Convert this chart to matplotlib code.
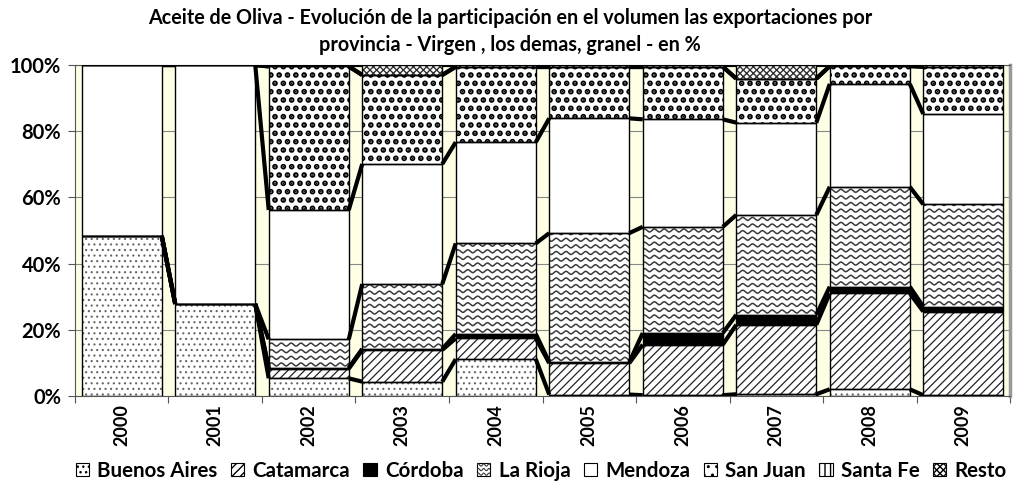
import numpy as np
import matplotlib.pyplot as plt
from matplotlib.patches import Patch, Rectangle
from matplotlib.lines import Line2D
from matplotlib.legend_handler import HandlerPatch

plt.rcParams['font.family'] = ['Lato', 'DejaVu Sans']
plt.rcParams['font.weight'] = 'bold'
plt.rcParams['hatch.linewidth'] = 1.0

# datos (% del volumen exportado, lectura del grafico)
years = ['2000', '2001', '2002', '2003', '2004', '2005', '2006', '2007', '2008', '2009']
buenos_aires = [48.4, 27.8, 5.3, 4.3, 11.1, 0.4, 0.2, 0.5, 2.0, 0.2]
catamarca = [0, 0, 2.9, 9.6, 6.3, 9.5, 15.3, 21.0, 29.0, 25.3]
cordoba = [0, 0, 0.3, 0.3, 1.3, 0.3, 3.5, 3.0, 2.0, 1.5]
la_rioja = [0, 0, 8.6, 19.6, 27.4, 39.0, 32.1, 30.2, 30.2, 30.9]
mendoza = [51.6, 72.2, 39.1, 36.3, 30.6, 34.7, 32.5, 27.9, 31.1, 27.3]
san_juan = [0, 0, 43.4, 26.9, 22.8, 15.6, 15.9, 13.3, 5.4, 14.3]
santa_fe = [0, 0, 0, 0, 0, 0, 0, 0, 0, 0]
resto = [0, 0, 0.4, 3.0, 0.5, 0.5, 0.5, 4.1, 0.3, 0.5]

names = ['Buenos Aires', 'Catamarca', 'Córdoba', 'La Rioja', 'Mendoza',
         'San Juan', 'Santa Fe', 'Resto']
series = [buenos_aires, catamarca, cordoba, la_rioja, mendoza, san_juan, santa_fe, resto]

# face colour, hatch, hatch colour, hatch linewidth
styles = {
    'Buenos Aires': ('white', '...', '#666666', 0.8),
    'Catamarca': ('white', '////', '#222222', 0.9),
    'Córdoba': ('black', None, 'black', 1.0),
    'La Rioja': ('white', None, 'black', 1.0),
    'Mendoza': ('white', None, 'black', 1.0),
    'San Juan': ('white', '..', 'black', 2.8),
    'Santa Fe': ('white', '|||', 'black', 1.0),
    'Resto': ('white', 'xxxxx', '#333333', 1.0),
}


def draw_waves(ax, patch):
    x0, y0 = patch.get_x(), patch.get_y()
    wd, ht = patch.get_width(), patch.get_height()
    xs = np.linspace(x0, x0 + wd, 400)
    for lev in np.arange(y0 + 1.0, y0 + ht + 2, 2.0):
        ln, = ax.plot(xs, lev + 0.45 * np.sin(2 * np.pi * xs / 0.105),
                      color='#3a3a3a', lw=1.1, zorder=2.5)
        ln.set_clip_path(patch)


class WaveHandler(HandlerPatch):
    def create_artists(self, legend, orig_handle, xdescent, ydescent,
                       width, height, fontsize, trans):
        rect = Rectangle((-xdescent, -ydescent), width, height, facecolor='white',
                         edgecolor='black', lw=0.8, transform=trans)
        arts = [rect]
        xs = np.linspace(-xdescent, -xdescent + width, 40)
        for k in range(3):
            ys = -ydescent + height * (k + 0.5) / 3 + 0.8 * np.sin(2 * np.pi * xs / (width / 2.5))
            ln = Line2D(xs, ys, color='#3a3a3a', lw=0.8, transform=trans)
            ln.set_clip_path(rect)
            arts.append(ln)
        return arts


fig = plt.figure(figsize=(10.27, 4.93), dpi=100)
ax = fig.add_axes([0.073, 0.197, 0.9105, 0.671])
ax.set_facecolor('#FFFFE6')

x = np.arange(len(years))
w = 0.856
bottom = np.zeros(len(years))
tops = []
for name, vals in zip(names, series):
    vals = np.array(vals, dtype=float)
    face, hatch, hc, hlw = styles[name]
    with plt.rc_context({'hatch.linewidth': hlw}):
        filled = ax.bar(x, vals, w, bottom=bottom, facecolor=face, hatch=hatch,
                        edgecolor=hc, lw=0, zorder=2)
    ax.bar(x, vals, w, bottom=bottom, facecolor='none', edgecolor='black', lw=1.0, zorder=3)
    if name == 'La Rioja':
        for p, v in zip(filled.patches, vals):
            if v > 0:
                draw_waves(ax, p)
    bottom = bottom + vals
    tops.append(bottom.copy())

# lineas de serie entre barras
for top in tops:
    for i in range(len(years) - 1):
        ax.plot([x[i] + w / 2, x[i + 1] - w / 2], [top[i], top[i + 1]],
                color='black', lw=3, solid_capstyle='butt', zorder=4)

ax.set_xlim(-0.5, len(years) - 0.5)
ax.set_ylim(0, 100)
ax.set_yticks(np.arange(0, 101, 20))
ax.set_yticklabels(['{}%'.format(v) for v in range(0, 101, 20)], fontsize=14.5)
ax.set_xticks(np.arange(-0.5, len(years), 1))
ax.set_xticklabels([])
ax.set_xticks(x, minor=True)
ax.set_xticklabels(years, minor=True, rotation=90, fontsize=13)
ax.tick_params(axis='x', which='minor', length=0, pad=6)
ax.tick_params(axis='both', which='major', direction='out', length=5, color='#555555')
ax.tick_params(axis='y', pad=5)
ax.yaxis.grid(True, color='#888888', lw=0.8)
ax.set_axisbelow(True)

ax.spines['top'].set_color('#555555')
ax.spines['left'].set_color('#555555')
ax.spines['bottom'].set_color('#555555')
ax.spines['right'].set_color('#999999')
ax.spines['right'].set_linewidth(2.5)

fig.text(0.4966, 0.963, 'Aceite de Oliva - Evolución de la participación en el volumen las exportaciones por',
         ha='center', va='center', fontsize=14.2, fontweight='bold')
fig.text(0.4966, 0.909, 'provincia - Virgen , los demas, granel - en %',
         ha='center', va='center', fontsize=14.2, fontweight='bold')

handles = []
hmap = {}
for name in names:
    face, hatch, hc, hlw = styles[name]
    h = Patch(facecolor=face, hatch=hatch, edgecolor='black', lw=0.8, label=name)
    if name == 'La Rioja':
        hmap[h] = WaveHandler()
    handles.append(h)

fig.legend(handles=handles, labels=names, handler_map=hmap, loc='center',
           bbox_to_anchor=(0.527, 0.045), ncol=8, frameon=False,
           prop={'weight': 'bold', 'size': 14.8}, handlelength=0.65, handleheight=0.65,
           handletextpad=0.4, columnspacing=0.65, borderaxespad=0)

plt.savefig('out.png', dpi=100)
